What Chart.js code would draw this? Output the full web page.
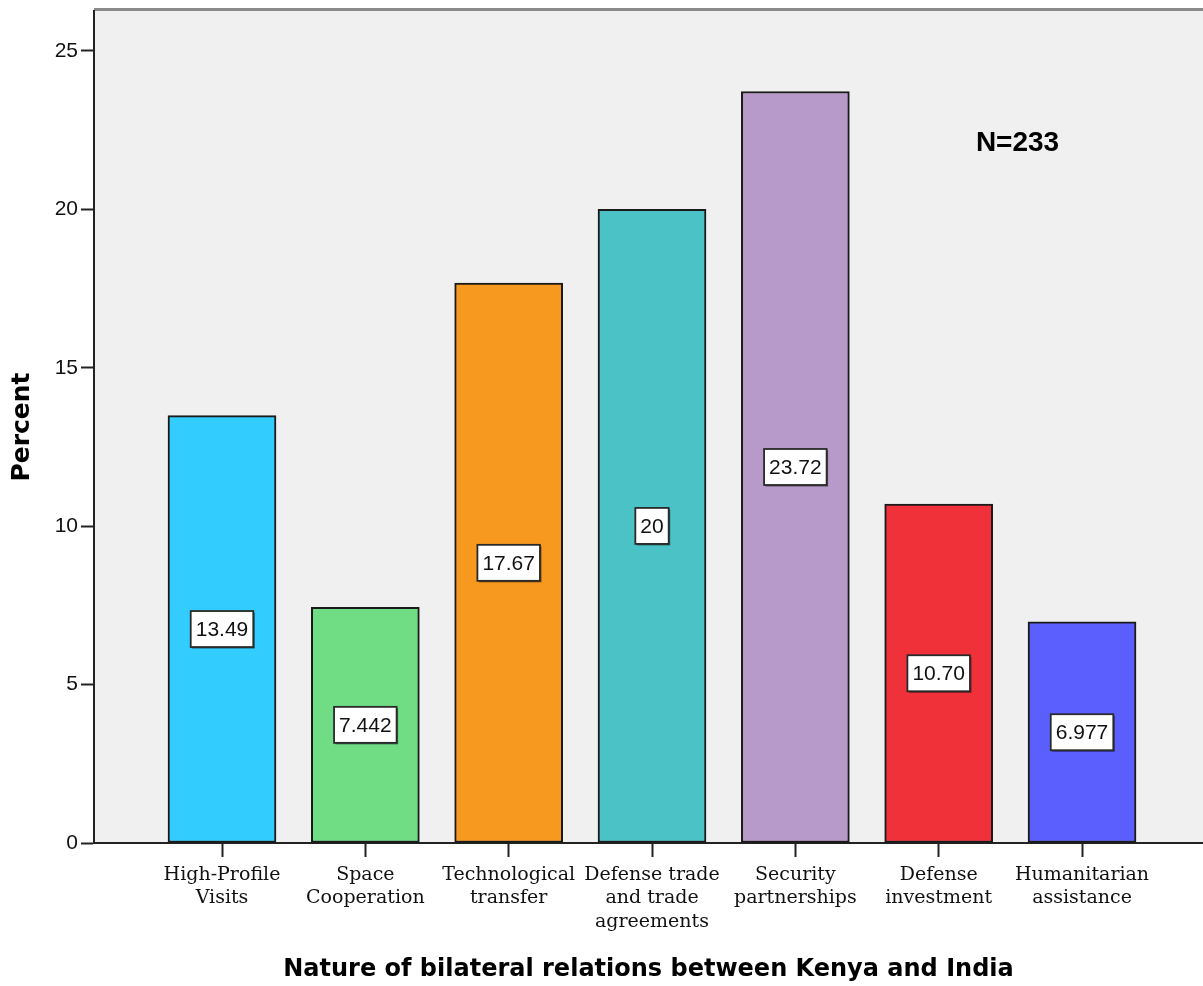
<!DOCTYPE html>
<html lang="en">
<head>
    <meta charset="UTF-8">
    <title>Nature of bilateral relations between Kenya and India</title>
    <script src="https://cdn.jsdelivr.net/npm/chart.js"></script>
    <style>
        body { margin: 0; background: #fff; overflow: hidden; }
        canvas { display: block; }
    </style>
</head>
<body>
    <canvas id="barChart" width="1203" height="986"></canvas>

    <script>
        // data
        const categories = [
            ['High-Profile', 'Visits'],
            ['Space', 'Cooperation'],
            ['Technological', 'transfer'],
            ['Defense trade', 'and trade', 'agreements'],
            ['Security', 'partnerships'],
            ['Defense', 'investment'],
            ['Humanitarian', 'assistance']
        ];
        const percents = [13.49, 7.442, 17.67, 20, 23.72, 10.70, 6.977];
        const valueLabels = ['13.49', '7.442', '17.67', '20', '23.72', '10.70', '6.977'];
        const barColors = ['#33ccff', '#70dd84', '#f7991f', '#4bc2c6', '#b89aca', '#f0313a', '#5b5ffe'];
        const yTicks = [0, 5, 10, 15, 20, 25];
        const sampleNote = 'N=233';

        // gray plot background + top frame line
        const plotFrame = {
            id: 'plotFrame',
            beforeDraw(chart) {
                const { ctx, chartArea: a } = chart;
                ctx.save();
                ctx.fillStyle = '#f0f0f0';
                ctx.fillRect(a.left, a.top, a.right - a.left, a.bottom - a.top);
                ctx.strokeStyle = '#8a8a8a';
                ctx.lineWidth = 3;
                ctx.beginPath();
                ctx.moveTo(a.left, a.top - 1.5);
                ctx.lineTo(a.right, a.top - 1.5);
                ctx.stroke();
                ctx.restore();
            }
        };

        // white boxed value labels in the middle of each bar, plus N note
        const barLabels = {
            id: 'barLabels',
            afterDatasetsDraw(chart) {
                const { ctx } = chart;
                const meta = chart.getDatasetMeta(0);
                ctx.save();
                ctx.font = '21px "Liberation Sans", Arial, sans-serif';
                ctx.textAlign = 'center';
                ctx.textBaseline = 'middle';
                meta.data.forEach((bar, i) => {
                    const txt = valueLabels[i];
                    const cx = bar.x;
                    const cy = (bar.y + bar.base) / 2;
                    const w = ctx.measureText(txt).width + 10;
                    const h = 36;
                    ctx.fillStyle = 'rgba(0,0,0,0.5)';
                    ctx.fillRect(cx - w / 2 + 1.5, cy - h / 2 + 1.5, w, h);
                    ctx.fillStyle = '#fff';
                    ctx.fillRect(cx - w / 2, cy - h / 2, w, h);
                    ctx.strokeStyle = '#2a2a2a';
                    ctx.lineWidth = 1.8;
                    ctx.strokeRect(cx - w / 2, cy - h / 2, w, h);
                    ctx.fillStyle = '#111';
                    ctx.fillText(txt, cx, cy + 1);
                });

                const xs = chart.scales.x, ys = chart.scales.y;
                ctx.font = 'bold 28px "Liberation Sans", Arial, sans-serif';
                ctx.fillStyle = '#000';
                ctx.fillText(sampleNote, xs.getPixelForValue(5.55), ys.getPixelForValue(22.1));
                ctx.restore();
            }
        };

        new Chart(document.getElementById('barChart'), {
            type: 'bar',
            data: {
                datasets: [{
                    label: 'Percent',
                    data: percents.map((v, i) => ({ x: i, y: v })),
                    backgroundColor: barColors,
                    borderColor: '#1a1a1a',
                    borderWidth: 2,
                    borderSkipped: false,
                    barThickness: 108
                }]
            },
            options: {
                responsive: false,
                animation: false,
                layout: { padding: { top: 11, right: 0, left: 0, bottom: 0 } },
                plugins: {
                    legend: { display: false },
                    tooltip: { enabled: false }
                },
                scales: {
                    x: {
                        type: 'linear',
                        offset: false,
                        min: -0.893,
                        max: 6.844,
                        afterBuildTicks(scale) {
                            scale.ticks = categories.map((c, i) => ({ value: i }));
                        },
                        afterFit(scale) {
                            scale.height = 143;
                            scale.paddingLeft = 0;
                            scale.paddingRight = 0;
                        },
                        grid: {
                            offset: false,
                            drawOnChartArea: false,
                            drawTicks: true,
                            tickLength: 14,
                            tickWidth: 2,
                            tickColor: '#222'
                        },
                        border: { display: true, color: '#222', width: 2 },
                        ticks: {
                            autoSkip: false,
                            maxRotation: 0,
                            padding: 6,
                            color: '#111',
                            font: { family: '"DejaVu Serif", serif', size: 19, lineHeight: 1.24 },
                            callback: (v) => categories[v]
                        },
                        title: {
                            display: true,
                            text: 'Nature of bilateral relations between Kenya and India',
                            color: '#000',
                            padding: { top: 0, bottom: 2 },
                            font: { family: '"DejaVu Sans", sans-serif', size: 24, weight: 'bold' }
                        }
                    },
                    y: {
                        min: 0,
                        max: 26.26,
                        afterBuildTicks(scale) {
                            scale.ticks = yTicks.map(v => ({ value: v }));
                        },
                        afterFit(scale) {
                            scale.width = 94;
                            scale.paddingTop = 0;
                            scale.paddingBottom = 0;
                        },
                        grid: {
                            drawOnChartArea: false,
                            drawTicks: true,
                            tickLength: 13,
                            tickWidth: 2,
                            tickColor: '#222'
                        },
                        border: { display: true, color: '#222', width: 2 },
                        ticks: {
                            padding: 3,
                            color: '#111',
                            font: { family: '"Liberation Sans", Arial, sans-serif', size: 21 }
                        },
                        title: {
                            display: true,
                            text: 'Percent',
                            color: '#000',
                            padding: { top: 7, bottom: 0 },
                            font: { family: '"DejaVu Sans", sans-serif', size: 25, weight: 'bold' }
                        }
                    }
                }
            },
            plugins: [plotFrame, barLabels]
        });
    </script>
</body>
</html>
